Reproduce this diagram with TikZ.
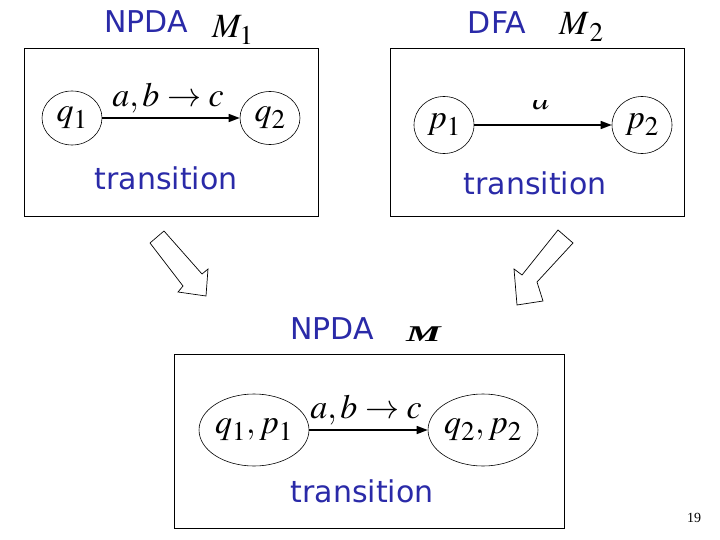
\documentclass[tikz,border=0pt]{standalone}
\usepackage{mathptmx}
\usepackage{fontspec}
\setmainfont{Liberation Serif}
\newfontfamily\ttlfont{DejaVu Sans}
\usetikzlibrary{shapes.geometric,arrows.meta}
\DeclareMathSizes{34}{34}{27}{20}
\definecolor{ttlblue}{RGB}{42,42,168}
\tikzset{
  ttl/.style={font=\ttlfont\fontsize{30}{36}\selectfont, text=ttlblue, anchor=base, inner sep=0pt},
  mth/.style={font=\fontsize{34}{40}\selectfont, inner sep=0pt, anchor=base},
  state/.style={ellipse, draw, line width=0.6pt, inner sep=0pt, font=\fontsize{34}{40}\selectfont},
  panel/.style={draw, line width=0.8pt, inner sep=0pt},
  trans/.style={-{Triangle[length=11pt,width=8pt]}, line width=1.4pt},
  fat/.style={draw, line width=0.7pt, line join=miter}
}
\begin{document}
\begin{tikzpicture}[x=1pt,y=-1pt]
\useasboundingbox (0,0) rectangle (720,540);

% panels
\node[panel, minimum width=294pt, minimum height=168pt] (box1) at (171,132) {};
\node[panel, minimum width=294pt, minimum height=168pt] (box2) at (537,132) {};
\node[panel, minimum width=390pt, minimum height=174pt] (box3) at (369,441) {};

% titles
\node[ttl] (t1) at (146,33) {NPDA};
\node[mth, anchor=base west] (m1) at (212,38) {$M_1$};
\node[ttl] (t2) at (497,34) {DFA};
\node[mth, anchor=base west] (m2) at (559,35) {$M_{\,2}$};
\node[ttl] (t3) at (332,339) {NPDA};
\node[anchor=base west, inner sep=0pt] (m3) at (406,341) {\scalebox{1.3}[0.75]{\fontsize{30}{36}\selectfont\bfseries\itshape M}};

% NPDA M1
\node[state, minimum width=60pt, minimum height=54pt] (q1) at (72,118) {$q_1$};
\node[state, minimum width=60pt, minimum height=53pt] (q2) at (270,118) {$q_2$};
\draw[trans] (q1) -- (q2);
\node[mth] (l1) at (168,107) {$a,b\rightarrow c$};
\node[ttl] (tr1) at (166,190) {transition};

% DFA M2
\node[state, minimum width=60pt, minimum height=57pt] (p1) at (444,125) {$p_1$};
\node[state, minimum width=60pt, minimum height=57pt] (p2) at (642,125) {$p_2$};
\draw[trans] (p1) -- (p2);
\begin{scope}
  \clip (520,101) rectangle (562,114);
  \node[mth] (l2) at (541,110) {$a$};
\end{scope}
\node[ttl] (tr2) at (535,195) {transition};

% product NPDA M
\node[state, minimum width=89pt, minimum height=72pt] (e1) at (254,430) {$q_1,p_1$};
\node[state, minimum width=90pt, minimum height=72pt] (e2) at (483,430) {$q_2,p_2$};
\draw[trans] (e1) -- (e2);
\node[mth] (l3) at (366,418) {$a,b\rightarrow c$};
\node[ttl] (tr3) at (362,502) {transition};

% hollow arrows
\draw[fat] (150,243) -- (164,231) -- (202,274) -- (208,269) -- (206,296) -- (178,292) -- (183,286) -- cycle;
\draw[fat] (558,230) -- (573,243) -- (537,282) -- (543,301) -- (517,305) -- (514,269) -- (522,275) -- cycle;

% page number
\node[font=\fontsize{14}{16}\selectfont, anchor=base, inner sep=0pt] (pg) at (694,522) {19};
\end{tikzpicture}
\end{document}
